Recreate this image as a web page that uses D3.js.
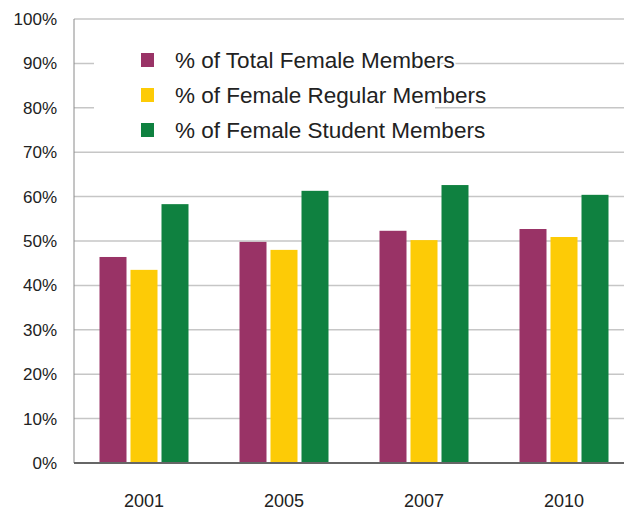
<!DOCTYPE html>
<html>
<head>
<meta charset="utf-8">
<script src="https://cdn.jsdelivr.net/npm/d3@7"></script>
<style>
  html, body { margin: 0; padding: 0; background: #fff; }
  svg { display: block; }
  text { font-family: "Liberation Sans", Arial, sans-serif; fill: #222; }
</style>
</head>
<body>
<svg id="chart" width="624" height="510"></svg>
<script>
const years = ["2001", "2005", "2007", "2010"];
const seriesNames = ["% of Total Female Members", "% of Female Regular Members", "% of Female Student Members"];
const totalFemale = [46.4, 49.8, 52.3, 52.7];
const regularFemale = [43.5, 48.0, 50.2, 50.9];
const studentFemale = [58.3, 61.3, 62.6, 60.4];
const seriesColors = ["#993366", "#FDCB06", "#0F8140"];
const yTicks = [0, 10, 20, 30, 40, 50, 60, 70, 80, 90, 100];

const seriesValues = [totalFemale, regularFemale, studentFemale];

const svg = d3.select("#chart");
const mLeft = 74, mTop = 19, mBottom = 463, mRight = 634;

const x = d3.scaleBand().domain(years).range([mLeft, mRight]).padding(0);
const y = d3.scaleLinear().domain([0, 100]).range([mBottom, mTop]);
const barW = 27, barGap = 4;
const groupW = barW * 3 + barGap * 2;

// gridlines
svg.append("g").selectAll("line").data(yTicks.filter(d => d > 0)).join("line")
  .attr("x1", mLeft).attr("x2", 624)
  .attr("y1", d => y(d)).attr("y2", d => y(d))
  .attr("stroke", "#c6c6c6").attr("stroke-width", 1.5);

// bars
seriesValues.forEach((vals, si) => {
  svg.append("g").selectAll("rect").data(years).join("rect")
    .attr("x", (d) => x(d) + (x.bandwidth() - groupW) / 2 + si * (barW + barGap))
    .attr("width", barW)
    .attr("y", (d, i) => y(vals[i]))
    .attr("height", (d, i) => mBottom - y(vals[i]))
    .attr("fill", seriesColors[si]);
});

// axes lines
svg.append("line").attr("x1", mLeft).attr("x2", mLeft).attr("y1", mTop).attr("y2", mBottom)
  .attr("stroke", "#8a8a8a").attr("stroke-width", 1);
svg.append("line").attr("x1", mLeft).attr("x2", 624).attr("y1", mBottom).attr("y2", mBottom)
  .attr("stroke", "#666").attr("stroke-width", 2);

// y tick labels
svg.append("g").selectAll("text").data(yTicks).join("text")
  .attr("x", 57).attr("y", d => y(d))
  .attr("dy", "0.35em").attr("text-anchor", "end")
  .style("font-size", "17px")
  .text(d => d + "%");

// x labels
svg.append("g").selectAll("text").data(years).join("text")
  .attr("x", d => x(d) + x.bandwidth() / 2).attr("y", 507)
  .attr("text-anchor", "middle")
  .style("font-size", "18px")
  .text(d => d);

// legend
const lg = svg.append("g");
lg.append("rect").attr("x", 94).attr("y", 36).attr("width", 341).attr("height", 108).attr("fill", "#fff");
const rowY = [60, 95, 130];
seriesNames.forEach((name, i) => {
  lg.append("rect").attr("x", 141).attr("y", rowY[i] - 7).attr("width", 13).attr("height", 14)
    .attr("fill", seriesColors[i]);
  lg.append("text").attr("x", 175).attr("y", rowY[i] + 8)
    .style("font-size", "22.5px")
    .attr("stroke", "#fff").attr("stroke-width", 3).attr("paint-order", "stroke")
    .text(name);
});
</script>
</body>
</html>
